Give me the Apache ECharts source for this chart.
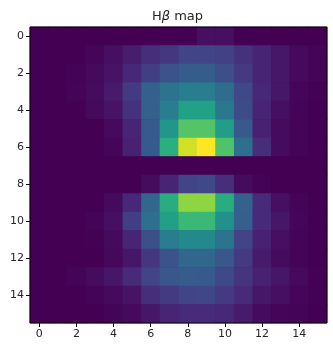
<!DOCTYPE html>
<html>
<head>
<meta charset="utf-8">
<style>
  html, body { margin: 0; padding: 0; background: #fff; }
  #chart { width: 333px; height: 348px; }
</style>
<script src="https://cdn.jsdelivr.net/npm/echarts@6/dist/echarts.min.js"></script>
</head>
<body>
<div id="chart"></div>
<script>
const xLabels = ['0', '1', '2', '3', '4', '5', '6', '7', '8', '9', '10', '11', '12', '13', '14', '15']
const yLabels = ['0', '1', '2', '3', '4', '5', '6', '7', '8', '9', '10', '11', '12', '13', '14', '15']

// 每行一组,从图上读的估计值 (0-1)
const row0 = [0, 0, 0, 0, 0, 0, 0, 0, 0, .04, .04, 0, 0, 0, 0, 0]
const row1 = [0, 0, 0, .015, .04, .08, .13, .16, .2, .2, .19, .14, .1, .06, .025, .008]
const row2 = [0, 0, .005, .025, .05, .11, .18, .25, .29, .29, .24, .17, .1, .06, .025, .008]
const row3 = [0, 0, .012, .03, .07, .17, .3, .38, .42, .42, .35, .22, .11, .06, .015, .004]
const row4 = [0, 0, 0, .025, .05, .14, .3, .42, .57, .57, .4, .23, .1, .04, .008, 0]
const row5 = [0, 0, 0, 0, .025, .1, .28, .52, .73, .73, .55, .28, .09, .03, .008, 0]
const row6 = [0, 0, 0, 0, .015, .09, .28, .63, .93, 1, .72, .36, .13, .03, .008, 0]
const row7 = [0, 0, 0, 0, 0, 0, 0, 0, 0, 0, 0, 0, 0, 0, 0, 0]
const row8 = [0, 0, 0, 0, 0, 0, .03, .1, .2, .22, .13, .03, .005, 0, 0, 0]
const row9 = [0, 0, 0, 0, .025, .11, .33, .62, .83, .83, .62, .31, .12, .04, .008, 0]
const row10 = [0, 0, 0, .012, .04, .18, .36, .56, .67, .67, .5, .3, .12, .06, .015, 0]
const row11 = [0, 0, 0, .004, .025, .1, .24, .42, .47, .47, .38, .2, .09, .04, .008, 0]
const row12 = [0, 0, 0, 0, .02, .06, .16, .26, .33, .33, .27, .17, .07, .03, .008, 0]
const row13 = [0, 0, .012, .03, .06, .12, .2, .27, .29, .28, .22, .15, .09, .06, .025, .004]
const row14 = [0, 0, 0, .012, .025, .05, .13, .17, .2, .21, .17, .12, .06, .04, .015, .004]
const row15 = [0, 0, 0, 0, .012, .025, .06, .1, .12, .12, .11, .07, .03, .015, .008, 0]
const rows = [row0, row1, row2, row3, row4, row5, row6, row7, row8, row9, row10, row11, row12, row13, row14, row15]

const viridis = ['#440154', '#482475', '#414487', '#355f8d', '#2a788e', '#21918c', '#22a884', '#44bf70', '#7ad151', '#bddf26', '#fde725']

const heatData = []
rows.forEach((row, y) => {
  row.forEach((v, x) => heatData.push([x, y, v]))
})

const fontFamily = '"DejaVu Sans"'
const gridBox = { left: 30, top: 27, width: 297, height: 296, show: true }
const axisCommon = {
  type: 'category',
  axisLine: { show: false },
  axisTick: { show: true, alignWithLabel: true, interval: 1, length: 4, lineStyle: { color: '#000', width: 1 } },
  axisLabel: { interval: 1, color: '#262626', fontFamily: fontFamily, fontSize: 11, margin: 6 },
  splitLine: { show: false },
  splitArea: { show: false },
}
// 第二个 grid 只画黑色边框,压在热力图上面
const frameAxis = {
  type: 'category',
  gridIndex: 1,
  data: xLabels,
  axisLine: { show: false },
  axisTick: { show: false },
  axisLabel: { show: false },
  splitLine: { show: false },
}

const chart = echarts.init(document.getElementById('chart'), null, { renderer: 'canvas' })
chart.setOption({
  backgroundColor: '#fff',
  animation: false,
  title: {
    text: 'H{i|β} map',
    left: 147,
    top: 5,
    textStyle: {
      fontFamily: fontFamily,
      fontSize: 13,
      fontWeight: 'normal',
      color: '#262626',
      rich: { i: { fontFamily: fontFamily, fontSize: 13, fontStyle: 'italic', color: '#262626' } },
    },
  },
  grid: [
    Object.assign({}, gridBox, { backgroundColor: '#440154', borderWidth: 0, z: 0 }),
    Object.assign({}, gridBox, { backgroundColor: 'transparent', borderColor: '#000', borderWidth: 1, z: 10 }),
  ],
  xAxis: [
    Object.assign({}, axisCommon, { data: xLabels }),
    frameAxis,
  ],
  yAxis: [
    Object.assign({}, axisCommon, { data: yLabels, inverse: true }),
    frameAxis,
  ],
  visualMap: { show: false, min: 0, max: 1, dimension: 2, seriesIndex: 0, inRange: { color: viridis } },
  series: [{ type: 'heatmap', data: heatData, progressive: 0, itemStyle: { borderWidth: 0 }, z: 2 }],
})
</script>
</body>
</html>
